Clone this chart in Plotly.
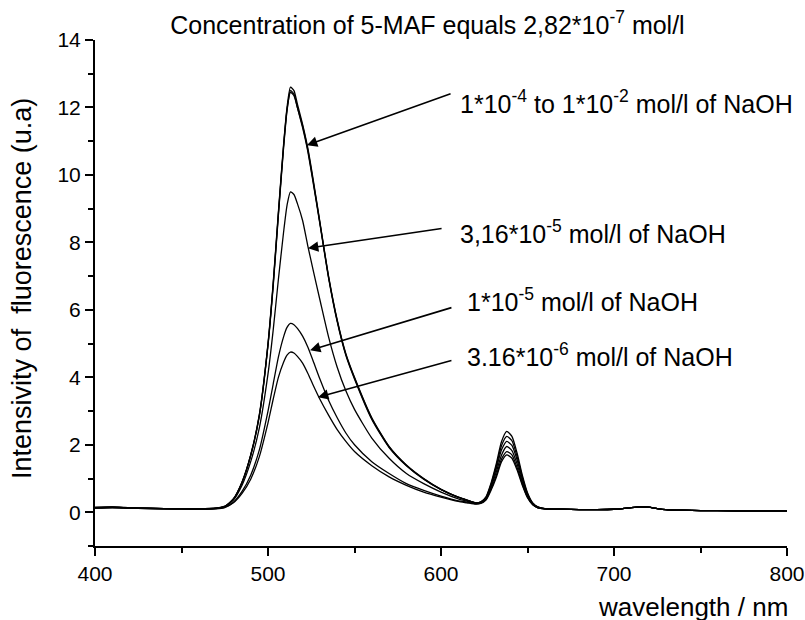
import plotly.graph_objects as go

wavelength = [400, 410, 420, 430, 440, 450, 460, 470, 475, 480, 485, 490, 495, 500, 503, 506, 509, 511, 513,
              515, 517, 520, 523, 526, 530, 535, 540, 545, 550, 560, 570, 580, 590, 600, 610, 615, 620, 623,
              626, 629, 632, 635, 638, 641, 644, 647, 650, 653, 656, 660]
tail_wavelength = [670, 680, 690, 700, 705, 710, 715, 720, 725, 730, 740, 750, 760, 780, 800]
tail_values = [0.09, 0.08, 0.08, 0.09, 0.11, 0.14, 0.16, 0.15, 0.11, 0.08, 0.06, 0.05, 0.05, 0.04, 0.04]

naoh_1e2 = [0.15, 0.16, 0.14, 0.12, 0.11, 0.11, 0.10, 0.12, 0.18, 0.40, 0.90, 1.70, 2.90, 5.00, 6.80, 8.90, 10.9, 12.0, 12.6,
            12.5, 12.1, 11.5, 10.8, 9.9, 8.6, 7.0, 5.7, 4.7, 4.0, 2.8, 1.95, 1.40, 1.00, 0.68, 0.45, 0.36, 0.28, 0.30,
            0.42, 0.80, 1.30, 1.85, 2.10, 1.98, 1.55, 0.98, 0.52, 0.26, 0.15, 0.11]
naoh_1e3 = [0.13, 0.15, 0.13, 0.12, 0.11, 0.10, 0.10, 0.12, 0.17, 0.38, 0.88, 1.68, 2.85, 4.95, 6.70, 8.80, 10.8, 11.9, 12.5,
            12.4, 12.0, 11.4, 10.7, 9.8, 8.55, 6.95, 5.65, 4.65, 3.95, 2.75, 1.92, 1.38, 0.98, 0.67, 0.44, 0.36, 0.28, 0.31,
            0.46, 0.88, 1.45, 2.10, 2.40, 2.25, 1.75, 1.10, 0.58, 0.28, 0.16, 0.11]
naoh_1e4 = [0.14, 0.15, 0.13, 0.12, 0.11, 0.10, 0.10, 0.12, 0.17, 0.39, 0.89, 1.69, 2.87, 4.97, 6.75, 8.85, 10.85, 11.95, 12.45,
            12.35, 12.0, 11.45, 10.75, 9.85, 8.58, 6.98, 5.68, 4.68, 3.98, 2.78, 1.94, 1.39, 0.99, 0.68, 0.45, 0.36, 0.28, 0.30,
            0.44, 0.84, 1.38, 1.98, 2.25, 2.12, 1.65, 1.04, 0.55, 0.27, 0.15, 0.11]
naoh_316e5 = [0.14, 0.15, 0.13, 0.12, 0.11, 0.10, 0.10, 0.12, 0.17, 0.36, 0.80, 1.50, 2.50, 4.10, 5.40, 6.90, 8.30, 9.10, 9.50,
              9.42, 9.15, 8.65, 7.90, 7.20, 6.30, 5.20, 4.30, 3.60, 3.05, 2.20, 1.60, 1.15, 0.85, 0.60, 0.40, 0.33, 0.27, 0.29,
              0.40, 0.75, 1.20, 1.70, 1.95, 1.83, 1.43, 0.90, 0.48, 0.24, 0.14, 0.10]
naoh_1e5 = [0.12, 0.14, 0.12, 0.11, 0.10, 0.10, 0.09, 0.11, 0.15, 0.30, 0.62, 1.10, 1.85, 3.00, 3.80, 4.60, 5.20, 5.48, 5.60,
            5.56, 5.45, 5.22, 4.90, 4.50, 3.95, 3.32, 2.80, 2.35, 2.00, 1.50, 1.15, 0.85, 0.65, 0.48, 0.34, 0.30, 0.25, 0.27,
            0.38, 0.70, 1.10, 1.58, 1.80, 1.70, 1.32, 0.84, 0.45, 0.23, 0.13, 0.10]
naoh_316e6 = [0.12, 0.13, 0.12, 0.11, 0.10, 0.10, 0.09, 0.10, 0.14, 0.28, 0.56, 0.98, 1.65, 2.65, 3.35, 4.00, 4.45, 4.66, 4.75,
              4.72, 4.62, 4.42, 4.12, 3.78, 3.35, 2.88, 2.45, 2.10, 1.80, 1.38, 1.05, 0.80, 0.60, 0.45, 0.32, 0.28, 0.24, 0.26,
              0.36, 0.66, 1.04, 1.50, 1.70, 1.60, 1.25, 0.80, 0.43, 0.22, 0.13, 0.10]

series = [naoh_1e2, naoh_1e3, naoh_1e4, naoh_316e5, naoh_1e5, naoh_316e6]

labels = ["1*10<sup>-4</sup> to 1*10<sup>-2</sup> mol/l of NaOH",
          "3,16*10<sup>-5</sup> mol/l of NaOH",
          "1*10<sup>-5</sup> mol/l of NaOH",
          "3.16*10<sup>-6</sup> mol/l of NaOH"]

FONT = "Liberation Sans, Arial, sans-serif"

fig = go.Figure()
for s in series:
    fig.add_trace(go.Scatter(x=wavelength + tail_wavelength, y=s + tail_values, mode="lines",
                             line=dict(color="black", width=1.3, shape="spline", smoothing=0.6),
                             showlegend=False, hoverinfo="skip"))

# arrows: (tail_x, tail_y, tip_x, tip_y) in data units
arrows = [(606.4, 12.42, 522.5, 10.88), (601.2, 8.42, 523.1, 7.83),
          (606.9, 6.08, 524.3, 4.80), (606.9, 4.51, 528.9, 3.41)]
label_pos = [(609.8, 12.16), (609.8, 8.30), (613.9, 6.29), (613.9, 4.65)]

for (tx, ty, hx, hy) in arrows:
    fig.add_annotation(x=hx, y=hy, ax=tx, ay=ty, xref="x", yref="y", axref="x", ayref="y",
                       text="", showarrow=True, arrowhead=2, arrowsize=1.3, arrowwidth=1.6,
                       arrowcolor="black")
for lab, (lx, ly) in zip(labels, label_pos):
    fig.add_annotation(x=lx, y=ly, xref="x", yref="y", text=lab, showarrow=False,
                       xanchor="left", yanchor="middle", font=dict(family=FONT, size=25, color="black"))

fig.update_layout(
    width=805, height=620,
    margin=dict(l=95, r=18, t=40, b=74),
    paper_bgcolor="white", plot_bgcolor="white",
    font=dict(family=FONT, color="black"),
    title=dict(text="Concentration of 5-MAF equals 2,82*10<sup>-7</sup> mol/l",
               x=0.531, xanchor="center", y=0.96, yanchor="middle",
               font=dict(family=FONT, size=25, color="black")),
)

fig.add_annotation(text="wavelength / nm", x=1.004, y=-0.1205, xref="paper", yref="paper",
                   xanchor="right", yanchor="middle", showarrow=False,
                   font=dict(family=FONT, size=26, color="black"))
fig.add_annotation(text="Intensivity of  fluorescence (u.a)", x=-0.1055, y=0.51, xref="paper", yref="paper",
                   textangle=-90, xanchor="center", yanchor="middle", showarrow=False,
                   font=dict(family=FONT, size=27, color="black"))

fig.update_xaxes(range=[400, 800], showline=True, linewidth=2, linecolor="black", mirror=False,
                 automargin=False, ticklabeloverflow="allow",
                 ticks="outside", ticklen=8, tickwidth=2, tickcolor="black", dtick=100, tick0=400,
                 minor=dict(dtick=50, ticks="outside", ticklen=5, tickwidth=2, tickcolor="black"),
                 showgrid=False, zeroline=False, tickfont=dict(family=FONT, size=21, color="black"))
fig.update_yaxes(range=[-1, 14], showline=True, linewidth=2, linecolor="black", mirror=False,
                 automargin=False,
                 ticks="outside", ticklen=8, tickwidth=2, tickcolor="black", dtick=2, tick0=0,
                 minor=dict(dtick=1, tick0=0, ticks="outside", ticklen=5, tickwidth=2, tickcolor="black"),
                 showgrid=False, zeroline=False, tickfont=dict(family=FONT, size=21, color="black"))

# remove the browser's default 8px body margin (and any scrollbars) so the 805x620 figure fills the window exactly
page_fix = ("document.documentElement.style.overflow='hidden';"
            "document.body.style.overflow='hidden';"
            "document.body.style.margin='0';")
fig.write_html("out.html", config={"displayModeBar": False, "responsive": False}, post_script=page_fix)
